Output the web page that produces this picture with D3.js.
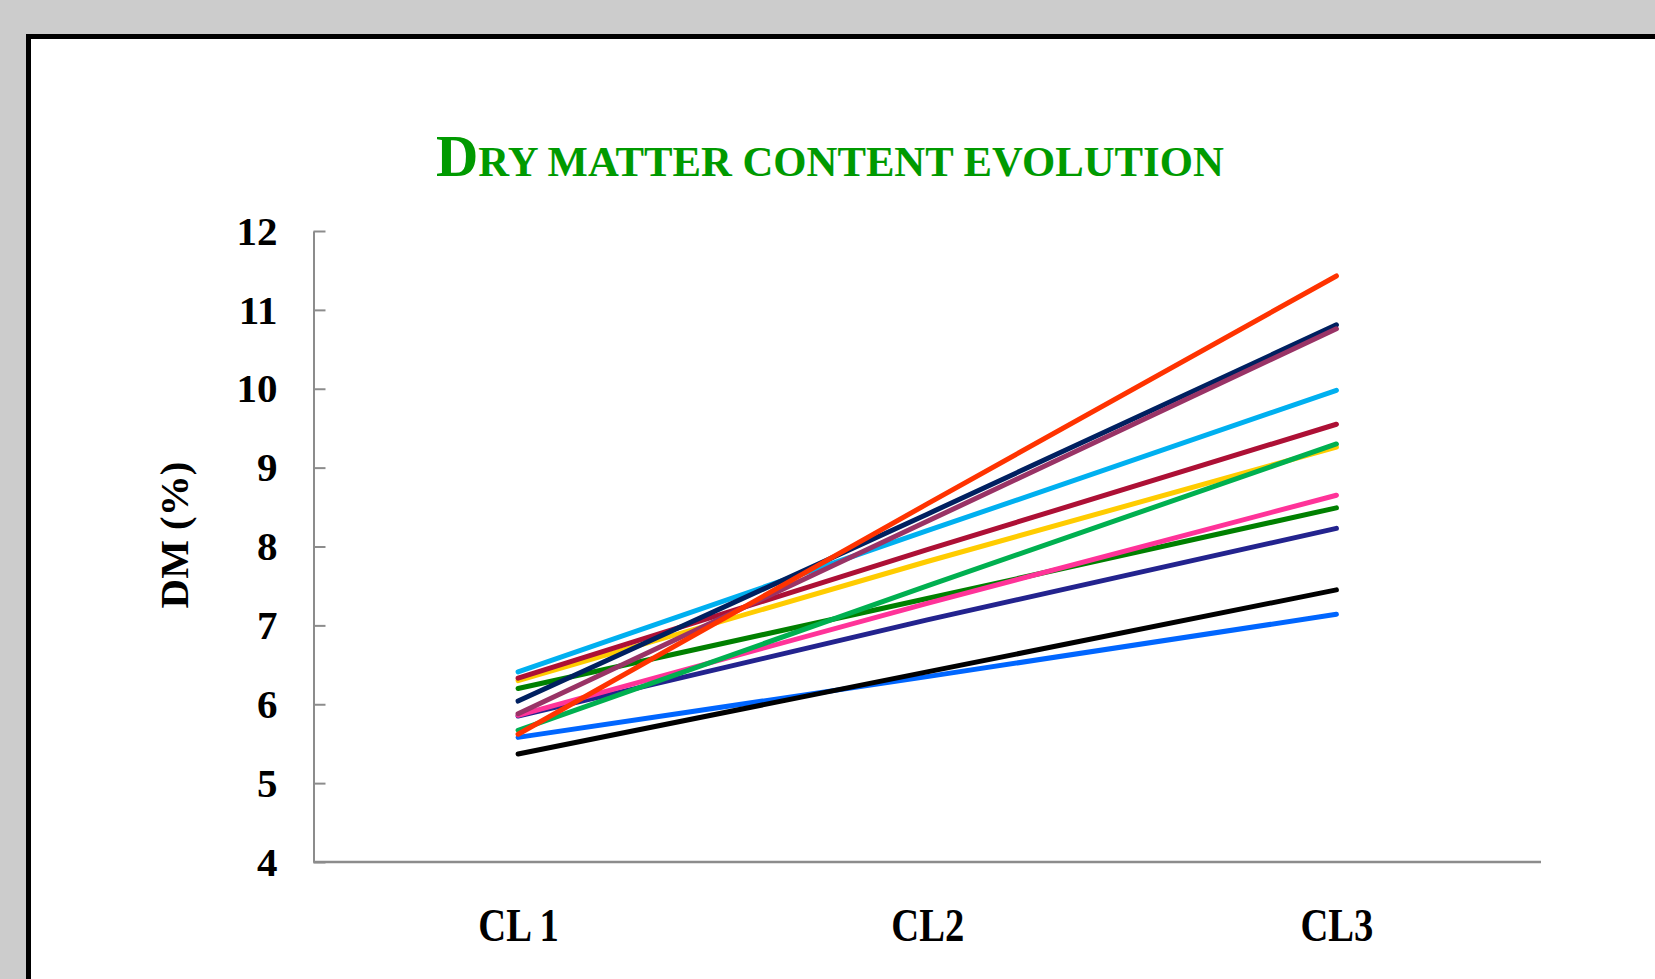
<!DOCTYPE html>
<html>
<head>
<meta charset="utf-8">
<script src="https://cdn.jsdelivr.net/npm/d3@7"></script>
<style>
  body { margin: 0; background: #cccccc; }
  svg { display: block; }
</style>
</head>
<body>
<svg></svg>
<script>
// categories on the x axis
const stages = ["CL 1", "CL2", "CL3"];

// one entry per sample, DM (%) at CL1, CL2, CL3
const blueVals      = [5.58, 6.35, 7.14];
const blackVals     = [5.37, 6.41, 7.45];
const indigoVals    = [5.85, 7.07, 8.23];
const darkGreenVals = [6.20, 7.34, 8.49];
const pinkVals      = [5.86, 7.28, 8.65];
const yellowVals    = [6.30, 7.81, 9.26];
const greenVals     = [5.67, 7.50, 9.30];
const crimsonVals   = [6.33, 7.96, 9.55];
const skyVals       = [6.41, 8.20, 9.98];
const navyVals      = [6.04, 8.41, 10.81];
const mauveVals     = [5.88, 8.32, 10.76];
const orangeVals    = [5.62, 8.54, 11.43];

const yTicks = [4, 5, 6, 7, 8, 9, 10, 11, 12];

// drawing order matters: later series sit on top
const series = [
    { color: "#0066ff", values: blueVals },
    { color: "#000000", values: blackVals },
    { color: "#23238e", values: indigoVals },
    { color: "#008000", values: darkGreenVals },
    { color: "#ff3399", values: pinkVals },
    { color: "#ffcc00", values: yellowVals },
    { color: "#00b050", values: greenVals },
    { color: "#ad1035", values: crimsonVals },
    { color: "#00b0f0", values: skyVals },
    { color: "#002060", values: navyVals },
    { color: "#993366", values: mauveVals },
    { color: "#ff3300", values: orangeVals }
];

const width = 1655;
const height = 979;

const svg = d3.select("svg")
    .attr("width", width)
    .attr("height", height);

// white panel with thick black frame (runs off the right/bottom edge)
svg.append("rect")
    .attr("x", 28.5)
    .attr("y", 36.5)
    .attr("width", width)
    .attr("height", height)
    .attr("fill", "#ffffff")
    .attr("stroke", "#000000")
    .attr("stroke-width", 5);

const plot = { left: 313.5, right: 1541, top: 231, bottom: 862 };

const x = d3.scalePoint()
    .domain(stages)
    .range([plot.left, plot.right])
    .padding(0.5);

const y = d3.scaleLinear()
    .domain([4, 12])
    .range([plot.bottom, plot.top]);

const serif = "'Liberation Serif', 'Times New Roman', serif";

// y axis, ticks pointing inwards
const yAxis = svg.append("g")
    .attr("transform", `translate(${plot.left},0)`)
    .call(d3.axisLeft(y)
        .tickValues(yTicks)
        .tickSizeInner(-12)
        .tickSizeOuter(0)
        .tickPadding(36));

yAxis.select(".domain")
    .attr("stroke", "#8c8c8c")
    .attr("stroke-width", 2);

yAxis.selectAll(".tick line")
    .attr("stroke", "#8c8c8c")
    .attr("stroke-width", 2);

yAxis.selectAll(".tick text")
    .style("font-family", serif)
    .style("font-size", "41px")
    .style("font-weight", "bold")
    .attr("fill", "#000000");

// x axis, no tick marks
const xAxis = svg.append("g")
    .attr("transform", `translate(0,${plot.bottom})`)
    .call(d3.axisBottom(x)
        .tickSize(0)
        .tickPadding(46));

xAxis.select(".domain")
    .attr("d", `M${plot.left},0H${plot.right}`)
    .attr("stroke", "#8c8c8c")
    .attr("stroke-width", 2.5);

xAxis.selectAll(".tick text")
    .style("font-family", serif)
    .style("font-size", "46px")
    .style("font-weight", "bold")
    .attr("fill", "#000000")
    .attr("transform", "scale(0.84,1)");

// lines
const line = d3.line()
    .x((d, i) => x(stages[i]))
    .y(d => y(d));

svg.append("g")
    .selectAll("path")
    .data(series)
    .enter()
    .append("path")
    .attr("d", d => line(d.values))
    .attr("fill", "none")
    .attr("stroke", d => d.color)
    .attr("stroke-width", 5)
    .attr("stroke-linecap", "round")
    .attr("stroke-linejoin", "round");

// y axis title
svg.append("text")
    .attr("transform", "translate(188,535) rotate(-90)")
    .attr("text-anchor", "middle")
    .style("font-family", serif)
    .style("font-size", "41px")
    .style("font-weight", "bold")
    .text("DM (%)");

// title in small caps
const title = svg.append("text")
    .attr("x", 0)
    .attr("y", 0)
    .style("font-family", serif)
    .style("font-weight", "bold")
    .attr("fill", "#009a00");

title.append("tspan")
    .style("font-size", "59px")
    .text("D");

title.append("tspan")
    .style("font-size", "43px")
    .text("RY MATTER CONTENT EVOLUTION");

const tw = title.node().getComputedTextLength();
title.attr("transform", `translate(436,176) scale(${788 / tw},1)`);
</script>
</body>
</html>
